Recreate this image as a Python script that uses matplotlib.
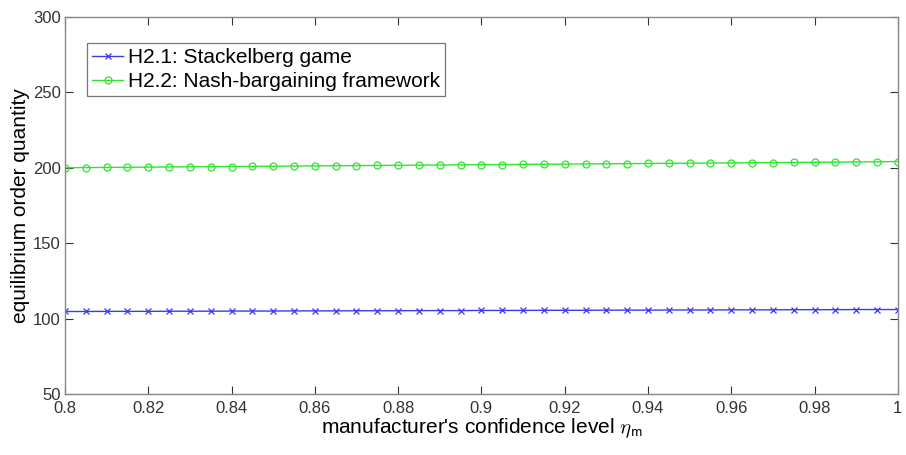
import matplotlib.pyplot as plt

# Datos
eta_m = [0.8, 0.805, 0.81, 0.815, 0.82, 0.825, 0.83, 0.835, 0.84, 0.845,
         0.85, 0.855, 0.86, 0.865, 0.87, 0.875, 0.88, 0.885, 0.89, 0.895,
         0.9, 0.905, 0.91, 0.915, 0.92, 0.925, 0.93, 0.935, 0.94, 0.945,
         0.95, 0.955, 0.96, 0.965, 0.97, 0.975, 0.98, 0.985, 0.99, 0.995, 1.0]

stackelberg = [104.7, 104.7, 104.8, 104.8, 104.8, 104.9, 104.9, 104.9, 105.0, 105.0,
               105.0, 105.1, 105.1, 105.1, 105.2, 105.2, 105.2, 105.3, 105.3, 105.3,
               105.4, 105.4, 105.4, 105.5, 105.5, 105.5, 105.6, 105.6, 105.6, 105.7,
               105.7, 105.7, 105.8, 105.8, 105.8, 105.9, 105.9, 105.9, 106.0, 106.0, 106.0]

nash = [200.0, 200.1, 200.2, 200.3, 200.4, 200.5, 200.6, 200.7, 200.8, 200.9,
        201.0, 201.1, 201.2, 201.3, 201.4, 201.5, 201.6, 201.7, 201.8, 201.9,
        202.0, 202.1, 202.2, 202.3, 202.4, 202.5, 202.6, 202.7, 202.8, 202.9,
        203.0, 203.1, 203.2, 203.3, 203.4, 203.5, 203.6, 203.7, 203.8, 203.9, 204.1]

x_ticks = [0.8, 0.82, 0.84, 0.86, 0.88, 0.9, 0.92, 0.94, 0.96, 0.98, 1.0]
x_tick_labels = ['0.8', '0.82', '0.84', '0.86', '0.88', '0.9', '0.92', '0.94', '0.96', '0.98', '1']
y_ticks = [50, 100, 150, 200, 250, 300]

plt.rcParams['font.family'] = ['Liberation Sans', 'DejaVu Sans']
plt.rcParams['mathtext.fontset'] = 'cm'

fig = plt.figure(figsize=(9.06, 4.55), dpi=100)
ax = fig.add_axes([0.0717, 0.134, 0.9193, 0.829])

ax.plot(eta_m, stackelberg, color='#3a3aee', marker='x', markersize=4.5,
        markeredgewidth=0.9, linewidth=1.0, label='H2.1: Stackelberg game')
ax.plot(eta_m, nash, color='#2ee62e', marker='o', markersize=5, markerfacecolor='none',
        markeredgewidth=0.9, linewidth=1.0, label='H2.2: Nash-bargaining framework')

ax.set_xlim(0.8, 1.0)
ax.set_ylim(50, 300)
ax.set_xticks(x_ticks)
ax.set_xticklabels(x_tick_labels)
ax.set_yticks(y_ticks)

for s in ax.spines.values():
    s.set_color('#888888')
    s.set_linewidth(1.0)
ax.tick_params(direction='in', top=True, right=True, length=6, width=0.8,
               colors='#333333', labelsize=12, pad=3)
ax.tick_params(axis='x', pad=5)

ax.set_xlabel(r"manufacturer's confidence level $\eta_{\mathsf{m}}$", fontsize=15, labelpad=0)
ax.set_ylabel('equilibrium order quantity', fontsize=15, labelpad=2)

leg = ax.legend(loc='upper left', bbox_to_anchor=(0.0264, 0.931), fontsize=15,
                frameon=True, fancybox=False, handlelength=1.5, handletextpad=0.2,
                borderpad=0.25, labelspacing=0.25, borderaxespad=0)
leg.get_frame().set_edgecolor('#555555')
leg.get_frame().set_linewidth(0.9)

fig.savefig('out.png', dpi=100)
